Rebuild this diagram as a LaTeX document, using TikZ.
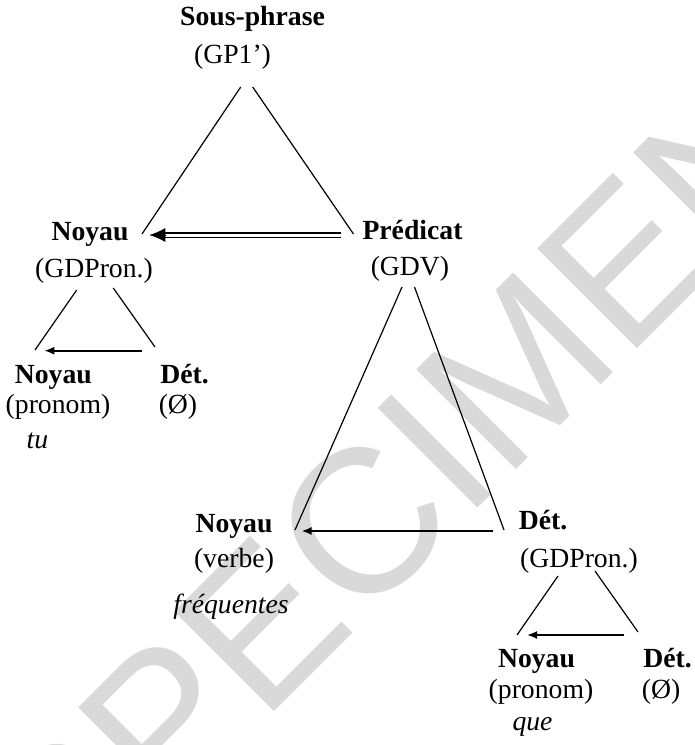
\documentclass[tikz,border=0pt]{standalone}
\usepackage{fontspec}
\setmainfont{Liberation Serif}
\newfontfamily\wmfont{Liberation Sans}
\usetikzlibrary{arrows.meta}

\begin{document}
\begin{tikzpicture}[
    x=1pt, y=-1pt,
    lbl/.style={inner sep=0pt, anchor=base, font=\fontsize{27.7}{33}\selectfont},
    head/.style={lbl, font=\fontsize{27.7}{33}\selectfont\bfseries},
    word/.style={lbl, font=\fontsize{27.7}{33}\selectfont\itshape},
    branch/.style={line width=1.2pt},
    dep/.style={line width=1.9pt, -{Latex[length=10pt,width=8pt]}},
    dbl/.style={double, double distance=3pt, line width=1.3pt},
    wmark/.style={inner sep=0pt, rotate=45, text=black!15, font=\wmfont\fontsize{205}{205}\selectfont}
]
\useasboundingbox (0,0) rectangle (695,745);
% Watermark
\node[wmark] (wm) at (398,488) {SPECIMEN};
% Sous-phrase
\node[head] (sp) at (252.5,25) {Sous-phrase};
\node[lbl] (gp) at (232.5,63) {(GP1’)};
% Level 1
\node[head] (noyA) at (90,240) {Noyau};
\node[lbl] (gdpA) at (94,277) {(GDPron.)};
\node[head] (pred) at (412.5,239) {Prédicat};
\node[lbl] (gdv) at (410,275) {(GDV)};
% Level 2 (left)
\node[head] (noyB) at (53.3,383) {Noyau};
\node[lbl] (prnB) at (58,413) {(pronom)};
\node[word] (tu) at (37.5,448) {tu};
\node[head] (detB) at (184.5,383) {Dét.};
\node[lbl] (zeroB) at (178,413) {(Ø)};
% Level 2 (right)
\node[head] (noyC) at (234,532) {Noyau};
\node[lbl] (verbe) at (234,567) {(verbe)};
\node[word] (freq) at (231,613) {fréquentes};
\node[head] (detC) at (543,529) {Dét.};
\node[lbl] (gdpC) at (579,567) {(GDPron.)};
% Level 3
\node[head] (noyD) at (536.5,667) {Noyau};
\node[lbl] (prnD) at (541,698) {(pronom)};
\node[word] (que) at (532.5,730) {que};
\node[head] (detD) at (667.5,667) {Dét.};
\node[lbl] (zeroD) at (661,698) {(Ø)};

% Top triangle
\draw[branch] ([shift={(8.2,24)}]gp.base) -- ([shift={(52,-6)}]noyA.base);
\draw[branch] ([shift={(20.2,24)}]gp.base) -- ([shift={(-59,-5)}]pred.base);
\coordinate (dtip) at ([shift={(59.3,-5)}]noyA.base);
\draw[dbl, shorten >=14pt] ([shift={(-71.5,-4)}]pred.base) -- (dtip);
\draw[line width=1pt, -{Latex[length=16pt,width=14pt]}] ([shift={(17,0)}]dtip) -- (dtip);
% Left triangle
\draw[branch] ([shift={(-17.3,13)}]gdpA.base) -- ([shift={(-18.3,-33)}]noyB.base);
\draw[branch] ([shift={(19.3,11)}]gdpA.base) -- ([shift={(-29.5,-36)}]detB.base);
\draw[dep] ([shift={(-42.8,-32.3)}]detB.base) -- ([shift={(-9,-32.3)}]noyB.base);
% GDV triangle
\draw[branch] ([shift={(-8,12)}]gdv.base) -- ([shift={(61,-2)}]noyC.base);
\draw[branch] ([shift={(4.5,12)}]gdv.base) -- ([shift={(-39,1)}]detC.base);
\draw[dep] ([shift={(-50,2)}]detC.base) -- ([shift={(67.5,-1)}]noyC.base);
% Lower triangle
\draw[branch] ([shift={(-21,9)}]gdpC.base) -- ([shift={(-19.5,-32)}]noyD.base);
\draw[branch] ([shift={(16,4)}]gdpC.base) -- ([shift={(-29.5,-35)}]detD.base);
\draw[dep] ([shift={(-43.5,-32)}]detD.base) -- ([shift={(-9.5,-32)}]noyD.base);
\end{tikzpicture}
\end{document}
